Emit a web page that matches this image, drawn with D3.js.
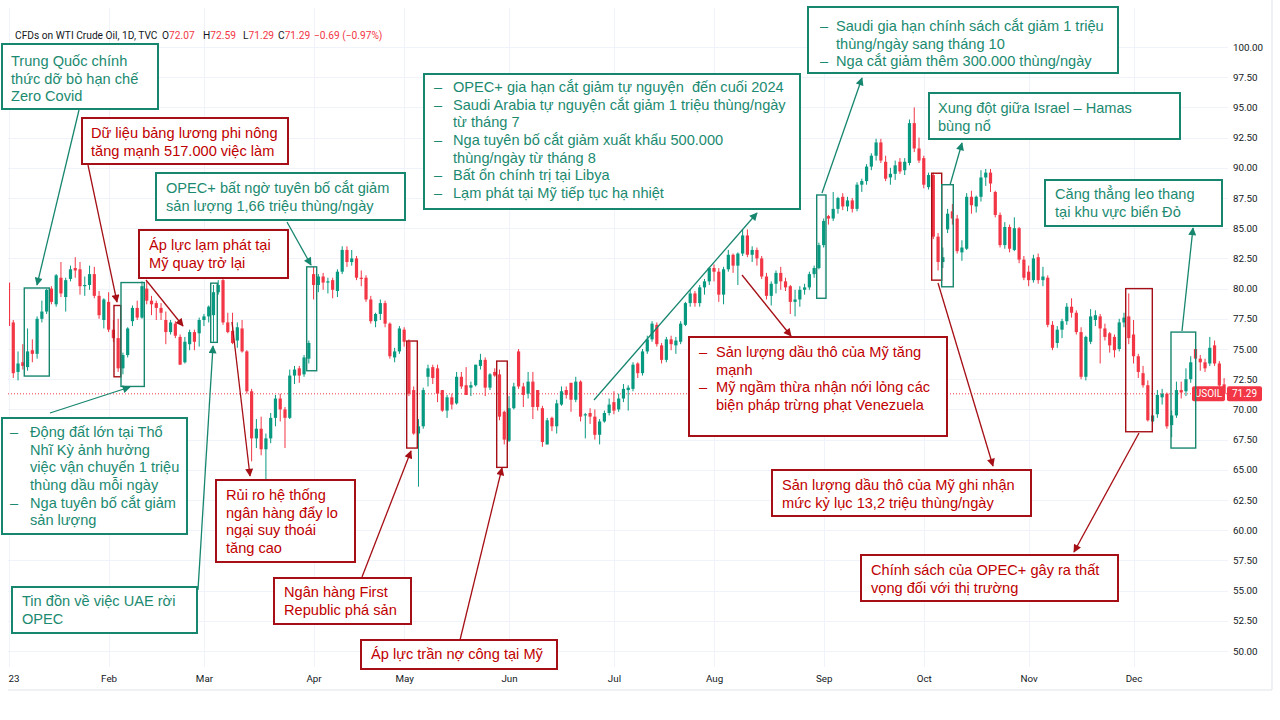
<!DOCTYPE html>
<html><head><meta charset="utf-8">
<script src="https://cdn.jsdelivr.net/npm/d3@7"></script>
<style>body{margin:0;background:#fff}svg{display:block}</style>
</head><body>
<svg id="c" width="1280" height="720"></svg>
<script>
// ---------------- DATA ----------------
const startDate = "2023-01-03", endDate = "2023-12-29";
const holidays = ["2023-01-02","2023-04-07","2023-05-29","2023-12-25"];
const monthLabels = ["23","Feb","Mar","Apr","May","Jun","Jul","Aug","Sep","Oct","Nov","Dec"];
const priceTicks = [50,52.5,55,57.5,60,62.5,65,67.5,70,72.5,75,77.5,80,82.5,85,87.5,90,92.5,95,97.5,100];

const opens = [
 80.5,77.2,73.1,73.9,73.5,74.9,74.6,77.5,78.1,80.0,78.7,80.9,79.3,80.8,81.7,81.6,80.2,80.3,81.2,79.4,77.4,
 78.9,76.6,75.9,73.4,74.5,77.3,78.4,77.6,80.0,79.0,78.8,78.4,77.4,76.4,77.1,76.0,73.9,75.4,76.4,76.3,
 77.4,77.7,77.8,79.7,80.7,77.2,76.5,75.7,76.7,74.8,71.5,67.6,68.4,66.7,67.6,69.3,70.9,70.0,69.3,72.8,73.4,72.9,74.2,
 81.2,80.3,81.0,80.5,80.7,79.8,81.4,83.2,82.2,82.5,80.9,80.9,79.1,77.3,77.9,78.8,77.1,74.3,74.8,
 76.6,75.6,71.6,68.0,68.6,72.7,73.5,73.4,71.6,69.9,71.0,70.5,72.7,72.0,71.8,72.0,73.6,74.1,71.8,73.1,72.9,69.8,
 67.4,70.1,74.8,71.9,71.3,72.3,71.6,70.1,67.1,69.3,68.6,70.4,71.6,72.2,70.8,72.3,69.5,69.7,69.4,67.9,69.0,69.7,
 70.6,70.0,70.9,71.6,71.7,73.8,73.0,74.8,75.8,77.0,75.3,74.1,75.8,75.3,75.6,77.0,78.8,79.6,78.8,80.1,80.6,
 81.7,81.4,79.5,81.6,82.8,81.9,82.9,84.4,82.8,83.2,82.5,81.0,79.4,80.4,81.3,80.6,80.2,78.9,79.1,79.9,80.1,81.2,81.7,
 83.6,86.0,85.8,86.6,87.6,86.8,87.3,86.6,88.6,88.9,90.1,91.0,92.1,90.5,89.2,89.5,90.5,89.8,90.4,93.7,91.6,
 90.8,88.4,89.4,84.3,82.2,84.9,86.4,85.8,83.0,83.3,87.6,86.8,87.6,89.2,89.6,88.0,86.1,83.6,85.1,83.2,85.0,82.4,
 81.4,80.7,82.6,80.7,80.9,77.0,75.5,76.6,77.3,78.5,78.0,76.4,72.7,75.6,77.4,77.7,76.7,76.3,76.0,75.0,77.2,77.7,
 76.2,74.4,73.0,72.0,69.0,69.6,71.0,71.3,68.7,69.5,71.6,71.5,72.5,75.0,74.2,73.9,73.8,75.3,73.8,72.07
];
const highs = [
 81.5,77.4,74.8,75.4,76.7,75.8,77.7,79.0,80.0,80.2,81.2,82.2,80.9,81.9,82.6,82.2,81.0,81.9,81.8,79.8,79.2,
 79.7,77.4,77.5,74.7,76.8,78.6,79.0,80.6,80.6,79.4,79.0,78.8,78.1,77.4,77.3,76.2,76.0,76.6,76.6,77.6,
 77.9,78.6,80.3,80.7,81.1,78.0,78.0,77.2,77.4,74.9,71.7,69.2,69.4,68.0,69.7,71.2,71.3,70.2,73.3,73.6,73.6,74.5,75.7,
 81.8,81.2,81.3,80.9,80.9,81.6,83.5,83.5,83.2,82.7,81.5,81.1,79.4,78.0,79.1,79.0,77.2,75.1,76.9,
 76.8,75.8,71.9,69.2,71.8,73.7,73.7,73.7,71.6,71.2,71.3,73.1,73.1,73.5,72.3,73.7,74.6,74.3,73.0,73.4,73.3,69.9,
 71.1,72.2,75.0,72.2,73.1,73.1,71.6,70.3,69.3,69.4,70.8,71.9,71.9,72.2,72.7,72.4,69.7,70.1,70.0,69.2,69.9,70.9,
 71.5,71.3,72.1,72.0,73.9,73.9,75.0,76.1,77.3,77.2,75.5,76.0,76.1,76.0,77.3,78.9,79.9,79.8,80.3,80.8,81.8,
 82.0,81.7,81.8,83.2,82.9,83.0,84.9,84.9,83.5,83.4,82.7,81.3,80.6,81.5,81.8,80.9,80.3,79.9,80.2,80.4,81.4,81.9,83.8,
 85.8,86.1,88.0,87.6,87.9,87.6,87.5,88.8,89.1,90.3,91.2,92.4,92.4,91.0,90.0,90.6,90.8,90.8,94.0,95.0,92.5,
 91.0,89.6,89.6,84.6,83.4,86.6,87.0,86.1,84.0,87.9,88.1,87.7,89.8,89.9,89.9,88.1,86.3,85.5,85.3,85.9,85.1,82.7,
 81.9,82.8,82.9,81.8,81.1,77.3,76.9,77.5,78.8,79.2,78.2,76.8,76.1,78.3,78.2,77.9,77.1,76.4,76.2,77.5,78.0,79.6,
 77.4,74.6,73.6,72.4,70.1,71.6,71.7,71.4,69.9,72.3,72.3,73.4,74.4,75.3,74.5,74.2,76.0,75.7,74.0,72.59
];
const lows = [
 76.6,72.6,72.4,73.3,73.2,73.9,74.2,77.2,77.9,78.7,78.5,79.3,78.1,80.6,80.9,79.5,79.4,79.9,79.2,77.5,76.7,
 76.4,75.6,73.1,72.9,74.3,76.9,77.4,77.5,78.7,77.8,77.4,77.4,75.4,76.2,75.9,73.7,73.8,74.9,74.9,75.2,
 76.9,77.2,75.6,79.5,77.0,76.3,75.4,75.1,74.7,71.3,65.7,66.8,66.2,64.1,67.2,68.6,69.0,66.8,69.2,72.1,72.2,72.7,73.8,
 79.1,79.7,79.9,79.6,79.2,79.3,81.2,81.8,81.9,80.7,80.2,78.9,77.1,76.8,77.4,76.8,74.2,73.9,74.6,
 75.2,71.1,67.9,63.6,68.4,71.9,72.1,70.6,69.8,69.3,70.0,70.4,71.7,71.2,71.1,71.9,73.3,71.1,71.6,72.7,69.1,67.1,
 67.3,70.0,71.7,70.2,70.9,69.2,69.9,66.9,67.1,68.2,68.0,70.3,70.9,69.8,70.6,69.0,67.6,68.8,67.5,67.1,68.9,69.5,
 69.6,69.8,70.6,69.9,71.5,72.6,72.8,74.6,75.6,75.2,73.8,73.9,74.9,74.6,75.4,76.9,78.5,78.5,78.5,79.5,80.3,
 80.6,78.9,78.7,81.4,81.3,80.3,82.7,82.6,82.2,81.9,80.8,79.1,78.6,79.6,79.9,79.8,77.9,77.7,78.5,79.5,79.9,80.9,81.6,
 83.4,85.3,85.6,86.2,86.5,86.4,86.3,86.4,88.0,88.6,89.8,90.6,90.4,88.9,88.6,89.0,89.5,89.4,90.2,91.3,90.4,
 88.3,88.2,84.1,81.5,81.7,84.6,85.3,82.9,82.3,83.2,86.2,86.3,87.2,88.5,88.0,85.9,83.4,83.3,83.0,83.1,82.1,80.7,
 80.2,80.5,80.4,80.2,76.8,74.9,75.1,75.9,77.0,77.6,76.2,72.5,72.4,75.4,76.9,73.8,75.7,74.7,74.3,74.8,76.8,75.4,
 73.8,72.6,71.8,69.0,68.8,69.3,70.4,68.4,67.7,69.3,70.9,71.1,72.2,73.7,73.2,73.1,73.6,73.6,71.7,71.29
];
const closes = [
 76.9,73.0,73.8,73.6,74.8,74.6,77.5,78.1,79.9,78.9,81.1,79.6,80.7,81.6,81.5,80.2,80.3,81.2,79.4,77.8,79.1,
 76.6,75.9,73.4,74.5,76.7,78.4,77.6,80.2,79.0,78.7,78.4,78.0,76.4,77.2,76.1,73.7,75.6,76.4,75.6,77.4,
 77.7,78.5,79.7,80.3,77.2,76.4,75.5,76.8,74.8,71.5,67.6,68.4,66.7,67.6,69.3,70.9,70.0,69.3,72.8,73.3,72.8,74.3,75.5,
 80.3,81.0,80.5,80.6,79.9,81.4,83.2,82.2,82.5,80.9,80.8,79.1,77.3,77.9,78.8,77.1,74.4,74.8,76.7,
 75.6,71.3,68.0,68.6,71.6,73.4,72.6,71.3,69.9,71.0,70.4,72.7,71.9,71.2,72.0,73.7,74.1,71.8,72.9,72.8,69.4,67.5,
 70.1,71.9,71.9,71.2,72.3,70.2,70.2,67.3,69.1,68.6,70.5,71.5,71.2,70.8,72.3,69.4,69.6,69.4,67.9,69.0,69.7,70.4,
 69.9,70.9,71.7,71.8,73.7,73.0,74.8,75.8,77.1,75.4,74.1,75.8,75.4,75.7,77.1,78.8,79.6,78.8,80.1,80.6,81.7,
 81.4,79.5,81.6,82.8,81.9,82.9,84.4,82.8,83.2,82.5,81.0,79.4,80.4,81.3,80.6,80.1,78.9,79.1,79.9,80.1,81.2,81.7,83.6,
 85.6,85.8,86.6,87.5,86.8,87.3,86.6,88.6,88.9,90.1,91.0,92.1,90.6,89.1,89.5,90.2,89.7,90.5,93.7,91.6,90.6,
 88.6,89.4,84.3,82.2,82.6,86.2,85.8,83.1,83.4,87.6,86.9,87.6,89.2,89.6,88.7,86.1,83.6,85.1,83.3,85.0,82.4,80.9,
 80.7,82.5,80.7,81.0,77.0,75.1,76.6,77.3,78.5,78.0,76.4,72.7,76.0,77.7,77.8,76.7,76.0,75.3,74.9,77.2,77.6,75.9,
 74.4,73.1,72.0,69.1,69.5,71.2,71.3,68.6,69.5,71.6,71.4,72.5,73.9,74.2,73.9,73.4,75.1,73.8,71.98,71.29
];
const headerTitle = "CFDs on WTI Crude Oil, 1D, TVC";
const headerValues = [["O","72.07"],["H","72.59"],["L","71.29"],["C","71.29"]];
const headerChange = "\u22120.69 (\u22120.97%)";
const symbolName = "USOIL";

// event marker boxes: [colour, firstBar, lastBar (fractional), priceTop, priceBottom]
const markerBoxes = [
 ["t",3.31,8.56,80.05,72.76],["r",22.13,23.54,78.6,72.7],["t",23.6,28.49,80.5,71.9],
 ["t",42.42,43.8,80.45,75.55],["t",62.55,64.65,81.8,73.2],["r",83.53,85.76,75.66,66.8],
 ["r",102.41,104.63,74.0,65.2],["t",169.54,171.49,87.75,79.2],["r",193.66,195.76,89.55,80.7],
 ["t",195.76,198.19,88.6,80.15],["r",234.36,239.94,80.0,68.15],["t",243.86,249.04,76.4,66.8]
];

// ---------------- LAYOUT ----------------
const notes = [
 {c:"t", r:[2,44,156,65], tx:11, cy:61, lines:["Trung Quốc chính","thức dỡ bỏ hạn chế","Zero Covid"]},
 {c:"r", r:[82,118,206,46], tx:91, cy:133, lines:["Dữ liệu bảng lương phi nông","tăng mạnh 517.000 việc làm"]},
 {c:"t", r:[156,173,249,47], tx:166, cy:188, lines:["OPEC+ bất ngờ tuyên bố cắt giảm","sản lượng 1,66 triệu thùng/ngày"]},
 {c:"r", r:[139,230,149,48], tx:149, cy:245, lines:["Áp lực lạm phát tại","Mỹ quay trở lại"]},
 {c:"t", r:[424,74,376,135], bx:434, tx:453, cy:87, lines:["•OPEC+ gia hạn cắt giảm tự nguyện\u00a0 đến cuối 2024","•Saudi Arabia tự nguyện cắt giảm 1 triệu thùng/ngày","từ tháng 7","•Nga tuyên bố cắt giảm xuất khẩu 500.000","thùng/ngày từ tháng 8","•Bất ổn chính trị tại Libya","•Lạm phát tại Mỹ tiếp tục hạ nhiệt"]},
 {c:"t", r:[808,7,310,66], bx:820, tx:836, cy:26, lines:["•Saudi gia hạn chính sách cắt giảm 1 triệu","thùng/ngày sang tháng 10","•Nga cắt giảm thêm 300.000 thùng/ngày"]},
 {c:"t", r:[929,93,251,46], tx:938, cy:108, lines:["Xung đột giữa Israel – Hamas","bùng nổ"]},
 {c:"t", r:[1045,180,177,46], tx:1055, cy:194, lines:["Căng thẳng leo thang","tại khu vực biển Đỏ"]},
 {c:"r", r:[689,337,258,99], bx:699, tx:716, cy:352, lines:["•Sản lượng dầu thô của Mỹ tăng","mạnh","•Mỹ ngầm thừa nhận nới lỏng các","biện pháp trừng phạt Venezuela"]},
 {c:"r", r:[772,470,259,46], tx:782, cy:485, lines:["Sản lượng dầu thô của Mỹ ghi nhận","mức kỷ lục 13,2 triệu thùng/ngày"]},
 {c:"r", r:[861,555,257,46], tx:871, cy:570, lines:["Chính sách của OPEC+ gây ra thất","vọng đối với thị trường"]},
 {c:"t", r:[2,418,185,116], bx:10, tx:30, cy:432, lines:["•Động đất lớn tại Thổ","Nhĩ Kỳ ảnh hưởng","việc vận chuyển 1 triệu","thùng dầu mỗi ngày","•Nga tuyên bố cắt giảm","sản lượng"]},
 {c:"t", r:[12,587,185,46], tx:22, cy:601, lines:["Tin đồn về việc UAE rời","OPEC"]},
 {c:"r", r:[216,480,139,82], tx:226, cy:495, lines:["Rủi ro hệ thống","ngân hàng đẩy lo","ngại suy thoái","tăng cao"]},
 {c:"r", r:[274,578,137,46], tx:284, cy:592, lines:["Ngân hàng First","Republic phá sản"]},
 {c:"r", r:[361,640,196,29], tx:371, cy:654, lines:["Áp lực trần nợ công tại Mỹ"]}
];
const arrows = [
 ["t",79,110,37,285],["r",88,165,117,302],["t",287,222,311,265],["r",146,280,183,326],
 ["t",50,413,130,387],["t",198,590,213,346],["r",232,322,250,476],["r",362,577,411,451],
 ["r",460,640,502,468],["t",594,400,757,213],["r",742,275,791,336],["t",822,193,862,78],
 ["t",950,185,962,143],["r",938,283,993,466],["r",1139,433,1074,552],["t",1182,331,1193,228]
];

// ---------------- BUILD ----------------
const fmt = d3.timeFormat("%Y-%m-%d");
const dates = d3.timeDay.range(new Date(startDate+"T00:00"), d3.timeDay.offset(new Date(endDate+"T00:00"),1))
  .filter(d => d.getDay()!==0 && d.getDay()!==6 && !holidays.includes(fmt(d))).map(fmt);
const bars = dates.map((d,i)=>({d, o:opens[i], h:highs[i], l:lows[i], c:closes[i]}));

const UP="#089981", DN="#F23645";
const COL = {t:{s:"#17866f", f:"#1b8a70"}, r:{s:"#a50f15", f:"#c00000"}};
const PL=8, PR=1228, PT=8, PB=667;
const AXF = "Roboto, 'Liberation Sans', sans-serif";

const svg = d3.select("#c");
const x = d3.scalePoint().domain(dates).range([8.5, 1224.1]);
const y = d3.scaleLinear().domain([50,100]).range([651,47]);
const xi = i => x.range()[0] + i*x.step();

const defs = svg.append("defs");
defs.append("clipPath").attr("id","plot").append("rect").attr("x",9).attr("y",PT).attr("width",PR-9).attr("height",PB-PT);
["t","r"].forEach(k=>{
  defs.append("marker").attr("id","ah"+k).attr("viewBox","0 0 10 10").attr("refX",9).attr("refY",5)
   .attr("markerWidth",9).attr("markerHeight",8).attr("markerUnits","userSpaceOnUse").attr("orient","auto")
   .append("path").attr("d","M0,0L10,5L0,10z").attr("fill",COL[k].s);
});

// frame
svg.append("line").attr("x1",1272).attr("x2",1272).attr("y1",0).attr("y2",690).attr("stroke","#e0e3eb");
svg.append("line").attr("x1",PL).attr("x2",1272).attr("y1",690).attr("y2",690).attr("stroke","#e0e3eb");

// grid
const monthStarts = dates.filter((d,i)=> i===0 || d.slice(5,7)!==dates[i-1].slice(5,7));
const grid = svg.append("g");
grid.selectAll(".gh").data(priceTicks).join("line").attr("x1",PL).attr("x2",PR)
  .attr("y1",d=>Math.round(y(d))+0.5).attr("y2",d=>Math.round(y(d))+0.5).attr("stroke","#f0f3fa");
grid.selectAll(".gv").data(monthStarts).join("line").attr("y1",PT).attr("y2",PB)
  .attr("x1",d=>Math.round(x(d))+0.5).attr("x2",d=>Math.round(x(d))+0.5).attr("stroke","#f0f3fa");

// axes
const ya = svg.append("g").attr("transform",`translate(${PR},0)`)
  .call(d3.axisRight(y).tickValues(priceTicks).tickFormat(d3.format(".2f")).tickSize(0).tickPadding(5));
ya.select(".domain").remove();
ya.selectAll("text").attr("font-family",AXF).attr("font-size","9.8px").attr("fill","#131722");

const xa = svg.append("g").attr("transform",`translate(0,${PB})`)
  .call(d3.axisBottom(x).tickValues(monthStarts).tickFormat((d,i)=>monthLabels[i]).tickSize(0).tickPadding(8.5));
xa.select(".domain").remove();
xa.selectAll("text").attr("font-family",AXF).attr("font-size","9.8px").attr("fill","#131722");
// first (year) label sits at the left edge of the pane
xa.selectAll(".tick").filter((d,i)=>i===0).select("text").attr("text-anchor","start").attr("x",-0.5);

// price line
const last = bars[bars.length-1];
svg.append("line").attr("x1",PL).attr("x2",PR).attr("y1",y(last.c)).attr("y2",y(last.c))
  .attr("stroke",DN).attr("stroke-dasharray","1,2").attr("stroke-width",1);

// candles
const cg = svg.append("g").attr("clip-path","url(#plot)");
const bw = 3.2;
cg.selectAll(".w").data(bars).join("line")
  .attr("x1",d=>x(d.d)).attr("x2",d=>x(d.d)).attr("y1",d=>y(d.h)).attr("y2",d=>y(d.l))
  .attr("stroke",d=>d.c>=d.o?UP:DN).attr("stroke-width",1);
cg.selectAll(".b").data(bars).join("rect")
  .attr("x",d=>x(d.d)-bw/2).attr("width",bw)
  .attr("y",d=>y(Math.max(d.o,d.c))).attr("height",d=>Math.max(1,Math.abs(y(d.o)-y(d.c))))
  .attr("fill",d=>d.c>=d.o?UP:DN);

// last price labels
const ly = y(last.c);
svg.append("rect").attr("x",1192).attr("y",ly-7.5).attr("width",33).attr("height",15).attr("rx",2).attr("fill",DN);
svg.append("text").attr("x",1208.5).attr("y",ly+3.6).attr("text-anchor","middle").attr("fill","#fff")
  .attr("font-family",AXF).attr("font-size","10px").text(symbolName);
svg.append("rect").attr("x",1227).attr("y",ly-7.5).attr("width",35).attr("height",15).attr("rx",2).attr("fill",DN);
svg.append("text").attr("x",1244.5).attr("y",ly+3.6).attr("text-anchor","middle").attr("fill","#fff")
  .attr("font-family",AXF).attr("font-size","10px").text(d3.format(".2f")(last.c));

// header
const hd = svg.append("text").attr("x",15).attr("y",38.5).attr("font-family",AXF).attr("font-size","10.2px");
hd.append("tspan").attr("fill","#131722").text(headerTitle);
const hx=[162,203,243,278];
headerValues.forEach((v,i)=>{
  hd.append("tspan").attr("x",hx[i]).attr("fill","#131722").text(v[0]);
  hd.append("tspan").attr("fill",DN).text(v[1]);
});
hd.append("tspan").attr("x",314).attr("fill",DN).text(headerChange);

// marker boxes
svg.append("g").selectAll("rect").data(markerBoxes).join("rect")
  .attr("x",d=>xi(d[1])).attr("width",d=>xi(d[2])-xi(d[1]))
  .attr("y",d=>y(d[3])).attr("height",d=>y(d[4])-y(d[3]))
  .attr("fill","none").attr("stroke",d=>COL[d[0]].s).attr("stroke-width",1.4);

// arrows
svg.append("g").selectAll("line").data(arrows).join("line")
  .attr("x1",d=>d[1]).attr("y1",d=>d[2]).attr("x2",d=>d[3]).attr("y2",d=>d[4])
  .attr("stroke",d=>COL[d[0]].s).attr("stroke-width",1.3).attr("marker-end",d=>`url(#ah${d[0]})`);

// notes
const ng = svg.append("g").attr("font-family","'Liberation Sans', Arial, sans-serif").attr("font-size","14.6px");
notes.forEach(n=>{
  const g = ng.append("g");
  g.append("rect").attr("x",n.r[0]).attr("y",n.r[1]).attr("width",n.r[2]).attr("height",n.r[3])
   .attr("fill","#fff").attr("stroke",COL[n.c].s).attr("stroke-width",2);
  const lh = 17.6;
  n.lines.forEach((ln,i)=>{
    const bullet = ln.startsWith("•");
    const t = bullet ? ln.slice(1) : ln;
    const yy = n.cy + i*lh + 5.2;
    if (bullet) g.append("text").attr("x",n.bx).attr("y",yy).attr("fill",COL[n.c].f).text("–");
    g.append("text").attr("x",n.tx).attr("y",yy).attr("fill",COL[n.c].f).text(t);
  });
});
</script>
</body></html>
